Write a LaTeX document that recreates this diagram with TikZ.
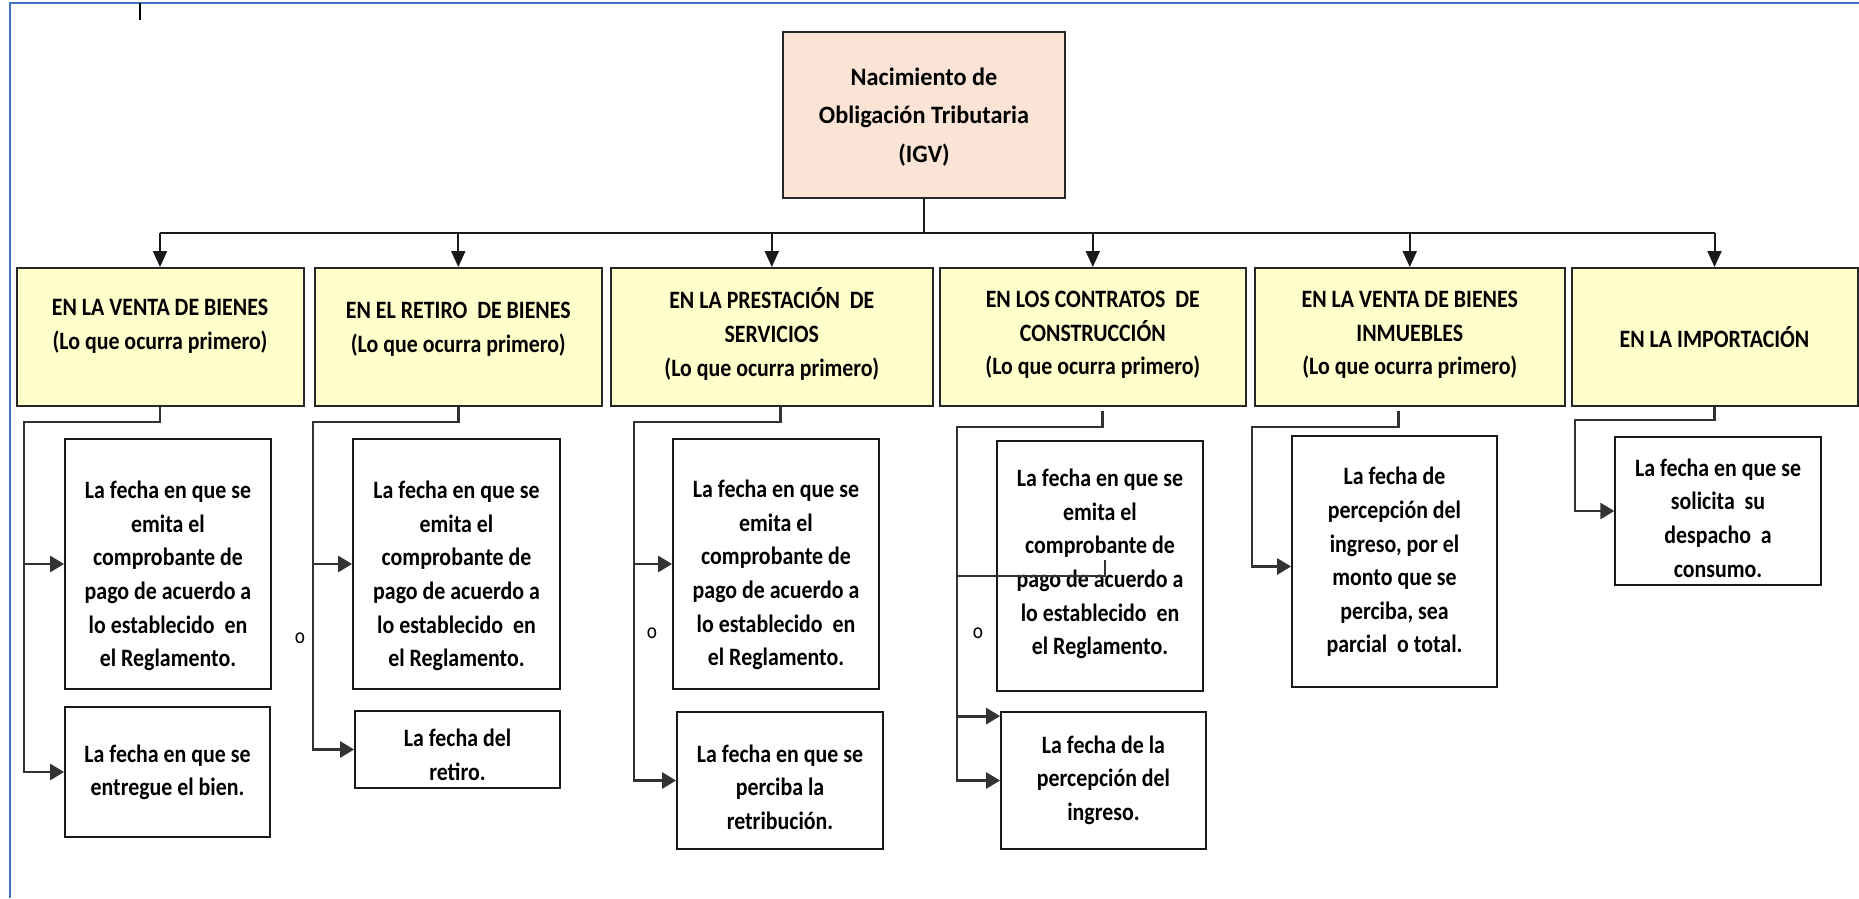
\documentclass[tikz,border=0pt]{standalone}
\usepackage{fontspec}
\setmainfont{Carlito}[FakeStretch=0.875]
\newfontfamily\topfont{Carlito}[FakeStretch=0.97]
\usetikzlibrary{arrows.meta,calc}
\definecolor{frameblue}{HTML}{4472C4}
\definecolor{ybg}{HTML}{FFFFCC}
\definecolor{pbg}{HTML}{FBE4D5}
\definecolor{conn}{HTML}{333333}
\begin{document}
\begin{tikzpicture}[x=1pt,y=-1pt,
  ybox/.style={draw=black!85, line width=2pt, fill=ybg, inner sep=0pt},
  sbox/.style={draw=black!90, line width=1.8pt, fill=white, inner sep=0pt},
  tbox/.style={draw=black!85, line width=2pt, fill=pbg, inner sep=0pt},
  txt/.style={align=center, font=\fontsize{25}{33.6}\selectfont\bfseries, inner sep=0pt},
  toptxt/.style={align=center, font=\topfont\fontsize{25}{38.5}\selectfont\bfseries, inner sep=0pt},
  orlabel/.style={font=\fontsize{22}{22}\selectfont, inner sep=0pt},
  bus/.style={line width=2pt, draw=black!90},
  link/.style={line width=2.8pt, draw=conn},
  tipb/.style={-{Triangle[length=16pt,width=14pt]}},
  tips/.style={-{Triangle[length=14pt,width=16pt]}}]
\useasboundingbox (0,0) rectangle (1859,898);
% page frame
\draw[frameblue, line width=2pt] (9.5,898) -- (9.5,3.3) -- (1859,3.3);
\draw[black, line width=1.5pt] (140,3.3) -- (140,20);

% top box
\node[tbox, minimum width=282, minimum height=166] (top) at (924,115) {};
\node[toptxt] (topt) at (924,117) {Nacimiento de\\Obligación Tributaria\\(IGV)};

% category boxes
\node[ybox, minimum width=287,   minimum height=138] (b1) at (160,337) {};
\node[ybox, minimum width=286.6, minimum height=138] (b2) at (458.3,337) {};
\node[ybox, minimum width=321.6, minimum height=138] (b3) at (771.8,337) {};
\node[ybox, minimum width=305.6, minimum height=138] (b4) at (1092.8,337) {};
\node[ybox, minimum width=309.5, minimum height=138] (b5) at (1409.75,337) {};
\node[ybox, minimum width=286,   minimum height=138] (b6) at (1714.5,337) {};

\node[txt] (b1t) at (160,326) {EN LA VENTA DE BIENES\\(Lo que ocurra primero)};
\node[txt] (b2t) at (458.3,329) {EN EL RETIRO\ \ DE BIENES\\(Lo que ocurra primero)};
\node[txt] (b3t) at (771.8,334) {EN LA PRESTACIÓN\ \ DE\\SERVICIOS\\(Lo que ocurra primero)};
\node[txt] (b4t) at (1092.8,335) {EN LOS CONTRATOS\ \ DE\\CONSTRUCCIÓN\\(Lo que ocurra primero)};
\node[txt] (b5t) at (1409.75,335) {EN LA VENTA DE BIENES\\INMUEBLES\\(Lo que ocurra primero)};
\node[txt] (b6t) at (1714.5,337) {EN LA IMPORTACIÓN};

% sub boxes
\node[sbox, minimum width=206, minimum height=250] (s1a) at (168,564) {};
\node[sbox, minimum width=205, minimum height=130] (s1b) at (167.5,772) {};
\node[sbox, minimum width=207, minimum height=250] (s2a) at (456.5,564) {};
\node[sbox, minimum width=205, minimum height=77]  (s2b) at (457.5,749.5) {};
\node[sbox, minimum width=206, minimum height=250] (s3a) at (776,564) {};
\node[sbox, minimum width=206, minimum height=137] (s3b) at (780,780.5) {};
\node[sbox, minimum width=206, minimum height=250] (s4a) at (1100,566) {};
\node[sbox, minimum width=205, minimum height=137] (s4b) at (1103.5,780.5) {};
\node[sbox, minimum width=205, minimum height=251] (s5)  at (1394.5,561.5) {};
\node[sbox, minimum width=205.5, minimum height=148] (s6) at (1718,511) {};

\node[txt] (s1at) at (168,576) {La fecha en que se\\emita el\\comprobante de\\pago de acuerdo a\\lo establecido\ \ en\\el Reglamento.};
\node[txt] (s1bt) at (167.5,772.5) {La fecha en que se\\entregue el bien.};
\node[txt] (s2at) at (456.5,576) {La fecha en que se\\emita el\\comprobante de\\pago de acuerdo a\\lo establecido\ \ en\\el Reglamento.};
\node[txt] (s2bt) at (457.5,755) {La fecha del\\retiro.};
\node[txt] (s3at) at (776,575) {La fecha en que se\\emita el\\comprobante de\\pago de acuerdo a\\lo establecido\ \ en\\el Reglamento.};
\node[txt] (s3bt) at (780,787) {La fecha en que se\\perciba la\\retribución.};
\node[txt] (s4at) at (1100,564) {La fecha en que se\\emita el\\comprobante de\\pago de acuerdo a\\lo establecido\ \ en\\el Reglamento.};
\node[txt] (s4bt) at (1103.5,780) {La fecha de la\\percepción del\\ingreso.};
\node[txt] (s5t)  at (1394.5,562) {La fecha de\\percepción del\\ingreso, por el\\monto que se\\perciba, sea\\parcial\ \ o total.};
\node[txt] (s6t)  at (1718,518) {La fecha en que se\\solicita\ \ su\\despacho\ \ a\\consumo.};

% "o" labels
\node[orlabel] (o1) at (300,638) {o};
\node[orlabel] (o2) at (652,633) {o};
\node[orlabel] (o3) at (978,633) {o};

% bus from top box
\coordinate (busL) at (160,233);
\coordinate (busR) at (1714.5,233);
\draw[bus] (top.south) -- (top.south |- busL);
\draw[bus] (busL) -- (busR);
\foreach \b in {b1,b2,b3,b4,b5,b6}
  \draw[bus,tipb] (\b.north |- busL) -- (\b.north);

% connectors to sub boxes
\coordinate (k1) at (24,422);
\draw[link,tips] (b1.south) |- (k1) |- (s1a.west);
\draw[link,tips] (k1) |- (s1b.west);

\coordinate (k2) at (313,422);
\draw[link,tips] (b2.south) |- (k2) |- (s2a.west);
\draw[link,tips] (k2) |- (s2b.west);

\coordinate (k3) at (634,422);
\draw[link,tips] ([xshift=9pt]b3.south) |- (k3) |- (s3a.west);
\draw[link,tips] (k3) |- (s3b.west);

\coordinate (k4) at (957,427);
\coordinate (k4b) at (957,576);
\coordinate (x4) at (1105,560);
\draw[link,tips] ([xshift=10pt,yshift=-4pt]b4.south) |- (k4) |- (s4b.west);
\draw[link,tips] (x4) |- (k4b) |- ([yshift=-5pt]s4b.north west);

\coordinate (k5) at (1252,427);
\draw[link,tips] ([xshift=-11pt,yshift=-4pt]b5.south) |- (k5) |- ([yshift=-5pt]s5.west);

\coordinate (k6) at (1575,420);
\draw[link,tips] (b6.south) |- (k6) |- (s6.west);
\end{tikzpicture}
\end{document}
